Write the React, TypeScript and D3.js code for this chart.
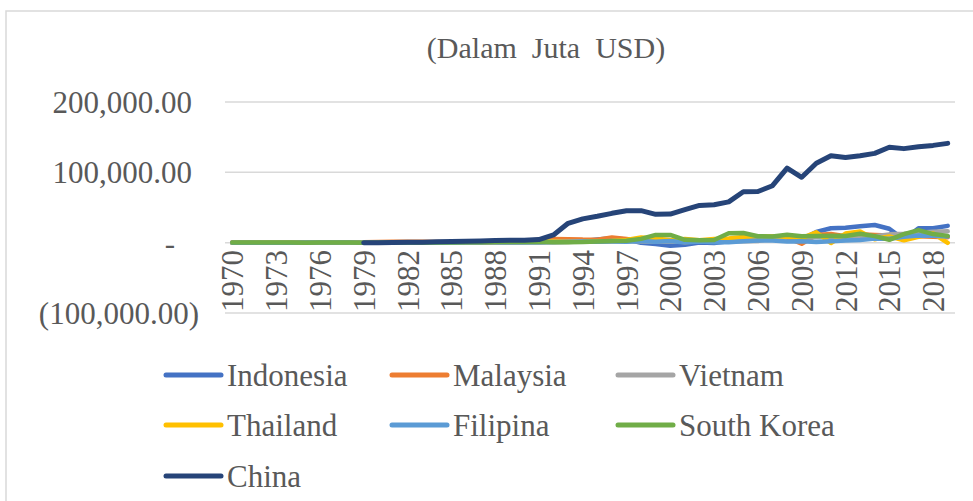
import React from "react";
import * as d3 from "d3";

// years on the category axis
const years: number[] = d3.range(1970, 2020);

// FDI inflows, million USD
const indonesia = [83, 139, 207, 15, -49, 476, 344, 235, 279, 226, 180, 133, 225, 292, 222, 310, 258, 385, 576, 682,
  1092, 1482, 1777, 2004, 2109, 4346, 6194, 4677, -241, -1866, -4550, -2977, 145, -597, 1896, 8336, 4914, 6928, 9318, 4877,
  15292, 20565, 21201, 23282, 25121, 19779, 4541, 20579, 20563, 23883];
const malaysia = [94, 100, 114, 172, 571, 350, 381, 406, 500, 574, 934, 1265, 1397, 1261, 797, 695, 489, 423, 719, 1668,
  2332, 3998, 5183, 5006, 4342, 4178, 7300, 5137, 2163, 3895, 3788, 554, 3203, 2473, 4624, 3966, 6060, 8595, 7172, -1500,
  10886, 12198, 9239, 12115, 10875, 10082, 11336, 9296, 8304, 7813];
const vietnam = [0, 0, 0, 0, 0, 0, 0, 0, 0, 0, 0, 0, 0, 0, 0, 0, 0, 0, 8, 4,
  180, 375, 474, 926, 1944, 1780, 2395, 2220, 1671, 1412, 1298, 1300, 1400, 1450, 1610, 1954, 2400, 6700, 9579, 7600,
  8000, 7430, 8368, 8900, 9200, 11800, 12600, 14100, 15500, 16120];
const thailand = [43, 39, 68, 77, 189, 86, 79, 106, 50, 55, 189, 291, 191, 350, 400, 163, 263, 352, 1105, 1775,
  2444, 2014, 2113, 1804, 1366, 2068, 2271, 3882, 7491, 6091, 3350, 5061, 3335, 5235, 5860, 8216, 8918, 8634, 8561, 6411,
  14747, -500, 12899, 15936, 4975, 8928, 3486, 8285, 13186, -300];
const filipina = [-1, -6, -21, 54, 4, 125, 126, 211, 101, 7, -106, 172, 16, 105, 9, 12, 127, 307, 936, 563,
  550, 556, 776, 1238, 1591, 1459, 1520, 1249, 2287, 1247, 2240, 195, 1542, 491, 688, 1854, 2921, 2916, 1544, 2065,
  1070, 2007, 3215, 3737, 5740, 5639, 8280, 10256, 9949, 8671];
const southKorea = [66, 64, 69, 158, 162, 53, 75, 73, 61, 16, 6, 102, 69, 69, 110, 234, 460, 616, 1014, 1118,
  788, 1180, 728, 588, 809, 1776, 2325, 2844, 5412, 11000, 11000, 4085, 3399, 3892, 13294, 13643, 9047, 8827, 11188, 9022,
  9497, 9773, 9496, 12767, 9274, 4104, 12104, 17913, 12183, 9634];
const china: (number | null)[] = [null, null, null, null, null, null, null, null, null, 0, 57, 265, 430, 636, 1258, 1659, 1875, 2314, 3194, 3393,
  3487, 4366, 11000, 27500, 33800, 37500, 41700, 45300, 45500, 40300, 40700, 47000, 53000, 54000, 58000, 72400, 72700, 81000, 106000, 93000,
  113000, 123500, 121000, 123500, 127000, 135600, 133700, 136300, 138300, 141200];

const seriesNames = ["Indonesia", "Malaysia", "Vietnam", "Thailand", "Filipina", "South Korea", "China"];
const seriesValues = [indonesia, malaysia, vietnam, thailand, filipina, southKorea, china];
const seriesColors = ["#4472C4", "#ED7D31", "#A5A5A5", "#FFC000", "#5B9BD5", "#70AD47", "#264478"];

const yTicks = [200000, 100000, 0, -100000];
const title = "(Dalam\u00a0 Juta\u00a0 USD)";

const W = 973;
const H = 501;
const FONT = "'Liberation Serif', 'Times New Roman', serif";
const TXT = "#595959";

function fmt(v: number): string {
  if (v === 0) return "-";
  const s = d3.format(",.2f")(Math.abs(v));
  return v < 0 ? "(" + s + ")" : s;
}

export default function App() {
  const x = d3.scaleBand<number>().domain(years).range([225, 955]);
  const y = d3.scaleLinear().domain([-100000, 200000]).range([313, 102]);
  const cx = (yr: number) => (x(yr) as number) + x.bandwidth() / 2;

  const line = d3
    .line<number | null>()
    .defined((d) => d !== null)
    .x((_, i) => cx(years[i]))
    .y((d) => y(d as number));

  const labelYears = years.filter((yr) => (yr - 1970) % 3 === 0);

  const legendCols = [166, 392, 618];
  const legendRows = [375, 425, 476];

  return (
    <svg width={W} height={H} style={{ position: "absolute", left: 0, top: 0, background: "#fff" }}>
      <rect x={6} y={11} width={1000} height={600} fill="#fff" stroke="#D9D9D9" strokeWidth={1.5} />
      <text x={546} y={58} textAnchor="middle" fontFamily={FONT} fontSize={30} fill={TXT}>
        {title}
      </text>

      {yTicks.map((t) => (
        <g key={t}>
          <line x1={225} x2={955} y1={y(t)} y2={y(t)} stroke="#D9D9D9" strokeWidth={1.5} />
          <text
            x={t === 0 ? 170 : t < 0 ? 199 : 192}
            y={y(t) + 11}
            textAnchor={t === 0 ? "middle" : "end"}
            fontFamily={FONT}
            fontSize={31}
            fill={TXT}
          >
            {fmt(t)}
          </text>
        </g>
      ))}

      {labelYears.map((yr) => (
        <text
          key={yr}
          transform={`translate(${cx(yr) + 11},250) rotate(-90)`}
          textAnchor="end"
          fontFamily={FONT}
          fontSize={31}
          fill={TXT}
        >
          {yr}
        </text>
      ))}

      {seriesValues.map((vals, i) => (
        <path
          key={seriesNames[i]}
          d={line(vals) || ""}
          fill="none"
          stroke={seriesColors[i]}
          strokeWidth={i === 6 ? 5 : 4.5}
          strokeLinejoin="round"
          strokeLinecap="round"
        />
      ))}

      {seriesNames.map((name, i) => {
        const lx = legendCols[i % 3];
        const ly = legendRows[Math.floor(i / 3)];
        return (
          <g key={name}>
            <line x1={lx} x2={lx + 55} y1={ly} y2={ly} stroke={seriesColors[i]} strokeWidth={5} strokeLinecap="round" />
            <text x={lx + 61} y={ly + 11} fontFamily={FONT} fontSize={31} fill={TXT}>
              {name}
            </text>
          </g>
        );
      })}
    </svg>
  );
}
